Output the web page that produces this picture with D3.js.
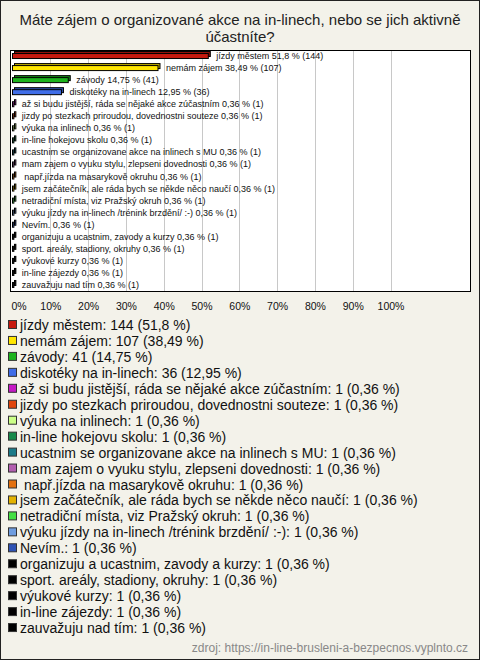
<!DOCTYPE html>
<html><head><meta charset="utf-8">
<script src="https://cdn.jsdelivr.net/npm/d3@7"></script>
<style>
html,body{margin:0;padding:0;background:#fff;}
svg text{font-family:Arial,"Liberation Sans",sans-serif;white-space:pre;}
</style></head>
<body>
<svg id="c" width="480" height="660"></svg>
<script>
const title = ["Máte zájem o organizované akce na in-linech, nebo se jich aktivně", "účastníte?"];
const categories = [
  "jízdy městem",
  "nemám zájem",
  "závody",
  "diskotéky na in-linech",
  "až si budu jistější, ráda se nějaké akce zúčastním",
  "jizdy po stezkach priroudou, dovednostni souteze",
  "výuka na inlinech",
  "in-line hokejovu skolu",
  "ucastnim se organizovane akce na inlinech s MU",
  "mam zajem o vyuku stylu, zlepseni dovednosti",
  " např.jízda na masarykově okruhu",
  "jsem začátečník, ale ráda bych se někde něco naučí",
  "netradiční místa, viz Pražský okruh",
  "výuku jízdy na in-linech /trénink brzdění/ :-)",
  "Nevím.",
  "organizuju a ucastnim, zavody a kurzy",
  "sport. areály, stadiony, okruhy",
  "výukové kurzy",
  "in-line zájezdy",
  "zauvažuju nad tím"
];
const counts = [144,107,41,36,1,1,1,1,1,1,1,1,1,1,1,1,1,1,1,1];
const percents = [51.8,38.49,14.75,12.95,0.36,0.36,0.36,0.36,0.36,0.36,0.36,0.36,0.36,0.36,0.36,0.36,0.36,0.36,0.36,0.36];
const colors = ["#c4190e","#ffe600","#1db31d","#3f6de8","#c51ac5","#e0450c","#ccff88","#17894a","#1c7a88","#b35fb0",
  "#e2700f","#e3b200","#44e044","#6f9de0","#2e52b4","#000000","#000000","#000000","#000000","#000000"];
const tickValues = [0,10,20,30,40,50,60,70,80,90,100];
const source = "zdroj: https://in-line-brusleni-a-bezpecnos.vyplnto.cz";

const fmt = v => String(v).replace(".", ",");
const svg = d3.select("#c");
const W = 480, H = 660;

svg.append("rect").attr("x",0.5).attr("y",0.5).attr("width",W-1).attr("height",H-1)
  .attr("fill","#f3f2ea").attr("stroke","#222");

svg.append("text").attr("x",240).attr("text-anchor","middle").attr("font-size",15).attr("fill","#222")
  .selectAll("tspan").data(title).join("tspan").attr("x",240).attr("y",(d,i)=>25+i*17).text(d=>d);

const plot = {x0:10, x1:470, y0:50, y1:291};
svg.append("rect").attr("x",plot.x0+0.5).attr("y",plot.y0+0.5)
  .attr("width",plot.x1-plot.x0).attr("height",plot.y1-plot.y0)
  .attr("fill","#fff").attr("stroke","#000");

const x = d3.scaleLinear().domain([0,100]).range([12.5,390.5]);
const y = d3.scaleBand().domain(d3.range(categories.length)).range([plot.y0, plot.y1]);

svg.append("g").selectAll("line").data(tickValues.filter(t=>t>0)).join("line")
  .attr("x1",d=>Math.round(x(d))+0.5).attr("x2",d=>Math.round(x(d))+0.5)
  .attr("y1",plot.y0+1).attr("y2",plot.y1)
  .attr("stroke","#c8c8c8");

const bh = 5, off = 2;
const bars = svg.append("g").selectAll("g").data(categories.map((c,i)=>({c,i,p:percents[i],n:counts[i],col:colors[i]}))).join("g");
bars.append("rect")
  .attr("x",d=>x(0)+off).attr("y",d=>y(d.i)+y.bandwidth()/2-bh/2-off)
  .attr("width",d=>x(d.p)-x(0)).attr("height",bh)
  .attr("fill",d=>d3.color(d.col).darker(0.8)).attr("stroke","#000").attr("stroke-width",1);
bars.append("rect")
  .attr("x",d=>x(0)).attr("y",d=>y(d.i)+y.bandwidth()/2-bh/2)
  .attr("width",d=>x(d.p)-x(0)).attr("height",bh)
  .attr("fill",d=>d.col).attr("stroke","#000").attr("stroke-width",1);
bars.append("text")
  .attr("x",d=>x(d.p)+off+6).attr("y",d=>y(d.i)+y.bandwidth()/2+3)
  .attr("font-size",9).attr("fill","#111")
  .text(d=>`${d.c} ${fmt(d.p)} % (${d.n})`);

const ax = svg.append("g").attr("transform",`translate(0,${plot.y1})`)
  .call(d3.axisBottom(x).tickValues(tickValues).tickFormat(d=>d+"%").tickSize(0).tickPadding(12));
ax.select(".domain").remove();
ax.selectAll("text").attr("font-size",10.5).attr("fill","#111").attr("font-family","Arial, 'Liberation Sans', sans-serif")
  .attr("text-anchor",d=>d===0?"start":"middle").attr("dx",d=>d===0?-1.5:0);

const lg = svg.append("g").selectAll("g").data(categories.map((c,i)=>({c,i}))).join("g")
  .attr("transform",d=>`translate(0,${325+d.i*15.95})`);
lg.append("rect").attr("x",8.5).attr("y",-4.5).attr("width",8).attr("height",8)
  .attr("fill",d=>colors[d.i]).attr("stroke","#333");
lg.append("text").attr("x",20).attr("y",5).attr("font-size",14).attr("fill","#111")
  .text(d=>`${d.c}: ${counts[d.i]} (${fmt(percents[d.i])} %)`);

svg.append("text").attr("x",468).attr("y",652).attr("text-anchor","end")
  .attr("font-size",12).attr("fill","#888").text(source);
</script>
</body></html>
